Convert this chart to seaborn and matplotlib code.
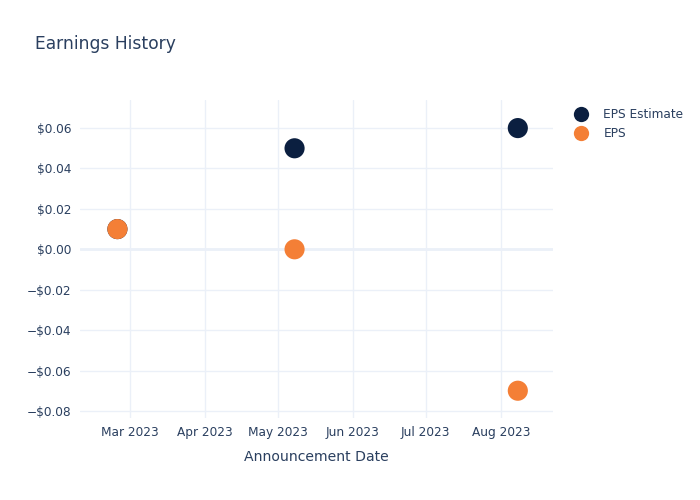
import matplotlib
matplotlib.use("Agg")
import matplotlib.pyplot as plt
import matplotlib.dates as mdates
import matplotlib.ticker as mticker
import seaborn as sns
import pandas as pd

dates = ["2023-02-24", "2023-05-08", "2023-08-08"]
eps_estimate = [0.01, 0.05, 0.06]
eps_actual = [0.01, 0.00, -0.07]
series_names = ["EPS Estimate", "EPS"]

df = pd.DataFrame({
    "date": pd.to_datetime(dates * 2),
    "value": eps_estimate + eps_actual,
    "series": [series_names[0]] * 3 + [series_names[1]] * 3,
})

sns.set_theme(style="white")
plt.rcParams['font.family'] = ['DejaVu Sans']
text_color = "#2a3f5f"
grid_color = "#ebf0f8"

fig = plt.figure(figsize=(7, 5), dpi=100)
ax = fig.add_axes([80/700, 1 - 418/500, (553 - 80)/700, (418 - 100)/500])

sns.scatterplot(data=df, x="date", y="value", hue="series",
                palette={"EPS Estimate": "#0b1f40", "EPS": "#f47f36"},
                s=210, edgecolor="none", ax=ax, legend=False, zorder=3)

ax.set_xlim(pd.Timestamp("2023-02-08 14:00"), pd.Timestamp("2023-08-22 12:00"))
ax.set_ylim(-0.0835, 0.0739)

ax.xaxis.set_major_locator(mdates.MonthLocator())
ax.xaxis.set_major_formatter(mdates.DateFormatter("%b %Y"))
ax.yaxis.set_major_locator(mticker.MultipleLocator(0.02))
ax.yaxis.set_major_formatter(mticker.FuncFormatter(
    lambda v, p: ("\u2212$%.2f" % abs(v)) if v < -1e-9 else "$%.2f" % abs(v)))

ax.grid(True, color=grid_color, linewidth=1)
ax.axhline(0, color=grid_color, linewidth=2, zorder=1)
for s in ax.spines.values():
    s.set_visible(False)
ax.tick_params(axis="both", length=0, labelsize=8.7, colors=text_color, pad=6)
ax.set_xlabel("Announcement Date", fontsize=10.1, color=text_color, labelpad=8)
ax.set_ylabel("")

fig.text(35/700, 1 - 44/500, "Earnings History", fontsize=12.3, color=text_color,
         va="center", ha="left")

from matplotlib.lines import Line2D
handles = [Line2D([], [], marker="o", linestyle="", markersize=11,
                  markerfacecolor=c, markeredgecolor="none")
           for c in ["#0b1f40", "#f47f36"]]
leg = fig.legend(handles, series_names, loc="upper left",
                 bbox_to_anchor=(569/700, 1 - 103/500), frameon=False,
                 fontsize=8.7, labelspacing=0.5, handletextpad=1.25,
                 handlelength=1.2, borderaxespad=0)
for t in leg.get_texts():
    t.set_color(text_color)

fig.savefig("out.png", dpi=100)
